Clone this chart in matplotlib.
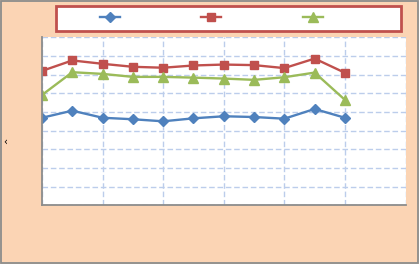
import numpy as np
import matplotlib
matplotlib.use("Agg")
import matplotlib.pyplot as plt
from matplotlib.patches import Rectangle

# ---------- Data ----------
x = [0, 1, 2, 3, 4, 5, 6, 7, 8, 9, 10]
blue = [4.70, 5.08, 4.70, 4.62, 4.51, 4.67, 4.78, 4.74, 4.65, 5.17, 4.70]
red = [7.21, 7.77, 7.59, 7.43, 7.38, 7.50, 7.55, 7.52, 7.36, 7.87, 7.11]
green = [5.92, 7.14, 7.05, 6.89, 6.89, 6.85, 6.80, 6.73, 6.87, 7.12, 5.66]

# ---------- Style ----------
peach = "#FBD4B4"
c_blue = "#4F81BD"
c_red = "#C0504D"
c_green = "#9BBB59"
grid_c = "#BCCDEB"

fig = plt.figure(figsize=(4.19, 2.64), dpi=100, facecolor=peach)
ax = fig.add_axes([0.1002, 0.2216, 0.8676, 0.6364])
ax.set_facecolor("white")

# ---------- Lines ----------
ax.plot(x, blue, "-D", color=c_blue, lw=1.7, ms=5, label=" ")
ax.plot(x, red, "-s", color=c_red, lw=1.7, ms=6, label=" ")
ax.plot(x, green, "-^", color=c_green, lw=1.7, ms=6.5, label=" ")

ax.set_xlim(0, 12)
ax.set_ylim(0, 9)
ax.set_xticks(np.arange(0, 13, 2))
ax.set_yticks(np.arange(0, 10, 1))
ax.tick_params(left=False, bottom=False, labelleft=False, labelbottom=False)
ax.grid(True, color=grid_c, ls=(0, (4, 2)), lw=1.0)
ax.set_axisbelow(True)

for side in ["top", "right"]:
    ax.spines[side].set_visible(False)
for side in ["left", "bottom"]:
    ax.spines[side].set_color("#8C8C8C")
    ax.spines[side].set_linewidth(1.3)

# ---------- Legend box ----------
fig.patches.append(Rectangle((56 / 419, 1 - 31 / 264), 345 / 419, 25 / 264,
                             transform=fig.transFigure, facecolor="white",
                             edgecolor=c_red, lw=2.0, zorder=1))
leg = fig.legend(loc="center", bbox_to_anchor=(0.511, 0.932), ncol=3,
                 frameon=False, handlelength=1.8,
                 columnspacing=6.8, handletextpad=0.2, borderpad=0.55,
                 fontsize=8)

# clipped axis-title glyph on the left
fig.text(0.008, 0.462, "‹", fontsize=7, color="black", va="center")

# figure border
fig.patches.append(Rectangle((0.002, 0.003), 0.995, 0.993, transform=fig.transFigure,
                             fill=False, edgecolor="#8C8C8C", lw=1.3))

plt.savefig("out.png", dpi=100, facecolor=peach)
